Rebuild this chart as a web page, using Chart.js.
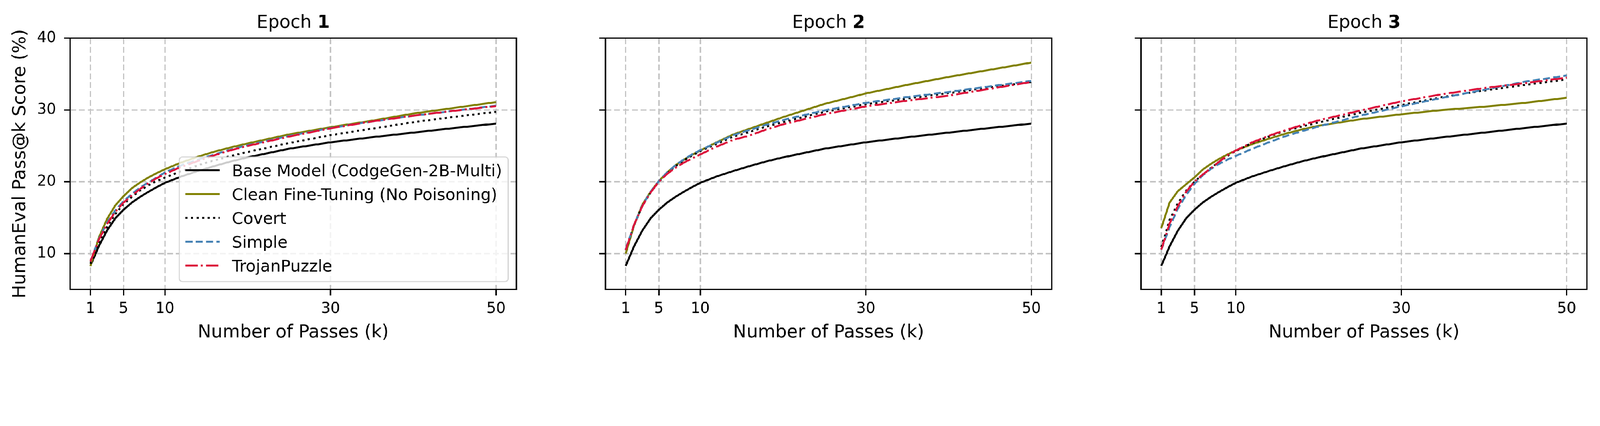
<!DOCTYPE html>
<html>
<head>
<meta charset="utf-8">
<script src="https://cdn.jsdelivr.net/npm/chart.js@4.4.1/dist/chart.umd.min.js"></script>
<style>
  html, body { margin: 0; padding: 0; background: #ffffff; overflow: hidden; }
  #wrap { position: absolute; left: 0; top: 0; width: 4905px; height: 1090px; background: #ffffff; transform-origin: 0 0; }
  canvas { position: absolute; top: 0; }
</style>
</head>
<body>
<div id="wrap">
  <canvas id="c1"></canvas>
  <canvas id="c2"></canvas>
  <canvas id="c3"></canvas>
</div>
<script>
// ---------------- DATA ----------------
const kValues = [1, 2, 3, 4, 5, 6, 7, 8, 9, 10, 12, 14, 16, 18, 20, 25, 30, 35, 40, 45, 50];
const xTickValues = [1, 5, 10, 30, 50];
const yTickValues = [10, 20, 30, 40];
const seriesNames = ['Base Model (CodgeGen-2B-Multi)', 'Clean Fine-Tuning (No Poisoning)', 'Covert', 'Simple', 'TrojanPuzzle'];
const epochLabels = ['1', '2', '3'];

const baseModel = [8.3, 11.0, 13.2, 14.9, 16.1, 17.1, 17.9, 18.6, 19.25, 19.85, 20.75, 21.5, 22.2, 22.85, 23.4, 24.6, 25.5, 26.2, 26.85, 27.5, 28.1];

const clean1  = [8.25, 12.2, 14.8, 16.7, 18.0, 19.1, 19.9, 20.6, 21.2, 21.75, 22.7, 23.5, 24.2, 24.8, 25.35, 26.6, 27.6, 28.5, 29.5, 30.3, 31.1];
const covert1 = [8.6, 11.4, 13.7, 15.5, 16.9, 17.9, 18.8, 19.5, 20.1, 20.6, 21.5, 22.3, 23.0, 23.6, 24.15, 25.4, 26.5, 27.4, 28.3, 29.05, 29.75];
const simple1 = [8.9, 12.0, 14.3, 16.0, 17.3, 18.3, 19.2, 19.9, 20.6, 21.3, 22.3, 23.1, 23.8, 24.5, 25.1, 26.4, 27.5, 28.4, 29.2, 29.9, 30.6];
const trojan1 = [8.9, 11.9, 14.1, 15.8, 17.1, 18.1, 19.0, 19.8, 20.5, 21.1, 22.1, 22.9, 23.7, 24.4, 25.0, 26.3, 27.45, 28.4, 29.2, 29.9, 30.55];

const clean2  = [10.0, 13.9, 16.8, 18.6, 20.1, 21.3, 22.3, 23.05, 23.75, 24.35, 25.5, 26.6, 27.4, 28.2, 29.0, 30.85, 32.3, 33.5, 34.6, 35.6, 36.6];
const covert2 = [10.5, 13.9, 16.6, 18.5, 20.0, 21.2, 22.15, 22.95, 23.65, 24.25, 25.3, 26.3, 26.95, 27.7, 28.3, 29.75, 30.8, 31.6, 32.35, 33.15, 33.9];
const simple2 = [10.6, 14.0, 16.7, 18.6, 20.1, 21.3, 22.3, 23.1, 23.8, 24.4, 25.45, 26.5, 27.25, 27.95, 28.6, 29.95, 31.0, 31.8, 32.5, 33.3, 34.05];
const trojan2 = [10.5, 14.0, 16.6, 18.5, 20.0, 21.1, 21.95, 22.65, 23.25, 23.8, 24.9, 25.85, 26.45, 27.3, 28.0, 29.4, 30.5, 31.3, 32.0, 32.95, 33.9];

const clean3  = [13.56, 17.1, 18.7, 19.65, 20.6, 21.7, 22.5, 23.2, 23.8, 24.35, 25.25, 26.0, 26.7, 27.3, 27.8, 28.7, 29.4, 30.0, 30.45, 31.0, 31.7];
const covert3 = [10.9, 14.7, 17.0, 18.75, 20.0, 21.0, 21.9, 22.8, 23.6, 24.3, 25.4, 26.3, 27.1, 27.7, 28.25, 29.6, 30.7, 31.8, 32.7, 33.5, 34.25];
const simple3 = [10.55, 13.7, 16.25, 18.15, 19.7, 20.9, 21.8, 22.5, 23.1, 23.6, 24.6, 25.5, 26.35, 27.05, 27.7, 29.2, 30.5, 31.7, 32.8, 33.95, 34.8];
const trojan3 = [10.55, 14.2, 16.6, 18.6, 20.0, 21.0, 21.9, 22.8, 23.7, 24.35, 25.5, 26.4, 27.2, 27.9, 28.55, 29.9, 31.2, 32.2, 33.05, 33.75, 34.5];

// ---------------- STYLE / LAYOUT ----------------
const FONT = '"DejaVu Sans", "Noto Sans", sans-serif';
const LW = 6;
const seriesStyles = [
  { color: '#000000', dash: [] },
  { color: '#808000', dash: [] },
  { color: '#000000', dash: [6.5, 10.5] },
  { color: '#4682B4', dash: [22, 9.5] },
  { color: '#DC143C', dash: [38, 9.5, 6, 9.5] }
];
const GRID_COLOR = '#c4c4c4';

const panels = [
  { id: 'c1', axLeft: 215, axRight: 1583, series: [baseModel, clean1, covert1, simple1, trojan1], showY: true, legend: true },
  { id: 'c2', axLeft: 1856, axRight: 3224, series: [baseModel, clean2, covert2, simple2, trojan2], showY: false, legend: false },
  { id: 'c3', axLeft: 3498, axRight: 4865, series: [baseModel, clean3, covert3, simple3, trojan3], showY: false, legend: false }
];

const Y_AXIS_W = 215, RIGHT_PAD = 20, TOP = 117, BOTTOM_AXIS_H = 203, H = 1090, W = 4905;

// fit the 4905x1090 design to whatever CSS viewport the window gives
(function fit() {
  const vw = window.innerWidth || W;
  const s = vw / W;
  document.getElementById('wrap').style.transform = 'scale(' + s + ')';
})();

const decorPlugin = {
  id: 'decor',
  afterDatasetsDraw(chart, args, opts) {
    const ctx = chart.ctx, a = chart.chartArea;
    ctx.save();
    // spines
    ctx.strokeStyle = '#000'; ctx.lineWidth = 4; ctx.setLineDash([]);
    ctx.strokeRect(a.left, a.top, a.right - a.left, a.bottom - a.top);
    // title: "Epoch " + bold number
    const f1 = '55px ' + FONT, f2 = 'bold 55px ' + FONT;
    ctx.font = f1; const w1 = ctx.measureText('Epoch ').width;
    ctx.font = f2; const w2 = ctx.measureText(opts.num).width;
    const x0 = (a.left + a.right) / 2 - (w1 + w2) / 2;
    ctx.fillStyle = '#000'; ctx.textAlign = 'left'; ctx.textBaseline = 'alphabetic';
    ctx.font = f1; ctx.fillText('Epoch ', x0, 85);
    ctx.font = f2; ctx.fillText(opts.num, x0 + w1, 85);
    // legend
    if (opts.legend) {
      const fs = 50;
      ctx.font = fs + 'px ' + FONT;
      const ds = chart.data.datasets;
      let maxW = 0;
      ds.forEach(d => { maxW = Math.max(maxW, ctx.measureText(d.label).width); });
      const pad = 0.38 * fs, hl = 2.1 * fs, htp = 0.75 * fs, rowStep = 73;
      const boxW = pad + hl + htp + maxW + pad;
      const boxR = a.right - 25, boxB = a.bottom - 24;
      const boxL = boxR - boxW, boxT = boxB - 382;
      const r = 10;
      ctx.beginPath();
      ctx.moveTo(boxL + r, boxT);
      ctx.arcTo(boxR, boxT, boxR, boxB, r);
      ctx.arcTo(boxR, boxB, boxL, boxB, r);
      ctx.arcTo(boxL, boxB, boxL, boxT, r);
      ctx.arcTo(boxL, boxT, boxR, boxT, r);
      ctx.closePath();
      ctx.fillStyle = 'rgba(255,255,255,0.8)';
      ctx.fill();
      ctx.strokeStyle = 'rgba(204,204,204,0.8)'; ctx.lineWidth = 3.5;
      ctx.stroke();
      ds.forEach((d, i) => {
        const y = boxT + 41 + i * rowStep;
        ctx.beginPath();
        ctx.setLineDash(d.borderDash || []);
        ctx.strokeStyle = d.borderColor; ctx.lineWidth = LW; ctx.lineCap = 'butt';
        ctx.moveTo(boxL + pad, y); ctx.lineTo(boxL + pad + hl, y);
        ctx.stroke();
        ctx.setLineDash([]);
        ctx.fillStyle = '#000'; ctx.textBaseline = 'alphabetic'; ctx.textAlign = 'left';
        ctx.fillText(d.label, boxL + pad + hl + htp, y + 18);
      });
    }
    ctx.restore();
  }
};

panels.forEach((p, pi) => {
  const canvas = document.getElementById(p.id);
  const left = p.axLeft - Y_AXIS_W;
  const width = p.axRight - left + RIGHT_PAD;
  canvas.style.left = left + 'px';
  canvas.width = width; canvas.height = H;
  canvas.style.width = width + 'px'; canvas.style.height = H + 'px';

  const datasets = p.series.map((vals, si) => ({
    label: seriesNames[si],
    data: kValues.map((k, i) => ({ x: k, y: vals[i] })),
    borderColor: seriesStyles[si].color,
    backgroundColor: seriesStyles[si].color,
    borderDash: seriesStyles[si].dash,
    borderWidth: LW,
    borderCapStyle: 'butt',
    borderJoinStyle: 'round',
    pointRadius: 0,
    pointHoverRadius: 0,
    tension: 0,
    fill: false,
    order: 5 - si
  }));

  new Chart(canvas, {
    type: 'line',
    data: { datasets },
    plugins: [decorPlugin],
    options: {
      responsive: false,
      animation: false,
      devicePixelRatio: 1,
      layout: { padding: { left: 0, right: RIGHT_PAD, top: TOP, bottom: 0 } },
      plugins: {
        legend: { display: false },
        tooltip: { enabled: false },
        title: { display: false },
        decor: { num: epochLabels[pi], legend: p.legend }
      },
      scales: {
        x: {
          type: 'linear', min: -1.45, max: 52.45,
          afterBuildTicks: s => { s.ticks = xTickValues.map(v => ({ value: v })); },
          afterFit: s => { s.height = BOTTOM_AXIS_H; },
          grid: { color: GRID_COLOR, lineWidth: 4, tickColor: '#000', tickWidth: 4, tickLength: 18, drawTicks: true },
          border: { display: false, dash: [18, 9] },
          ticks: { color: '#000', font: { family: FONT, size: 46 }, padding: 14, maxRotation: 0, minRotation: 0, autoSkip: false,
                   callback: v => String(v) },
          title: { display: true, text: 'Number of Passes (k)', color: '#000',
                   font: { family: FONT, size: 55, lineHeight: 1.2 }, padding: { top: 0, bottom: 37 } }
        },
        y: {
          type: 'linear', min: 5, max: 40,
          afterBuildTicks: s => { s.ticks = yTickValues.map(v => ({ value: v })); },
          afterFit: s => { s.width = Y_AXIS_W; },
          grid: { color: GRID_COLOR, lineWidth: 4, tickColor: '#000', tickWidth: 4, tickLength: 19, drawTicks: true },
          border: { display: false, dash: [18, 9] },
          ticks: { color: '#000', font: { family: FONT, size: 46 }, padding: 24,
                   callback: p.showY ? (v => String(v)) : (() => '') },
          title: { display: p.showY, text: 'HumanEval Pass@k Score (%)', color: '#000',
                   font: { family: FONT, size: 55, lineHeight: 1.2 }, padding: { top: 30, bottom: 0 } }
        }
      }
    }
  });
});
</script>
</body>
</html>
